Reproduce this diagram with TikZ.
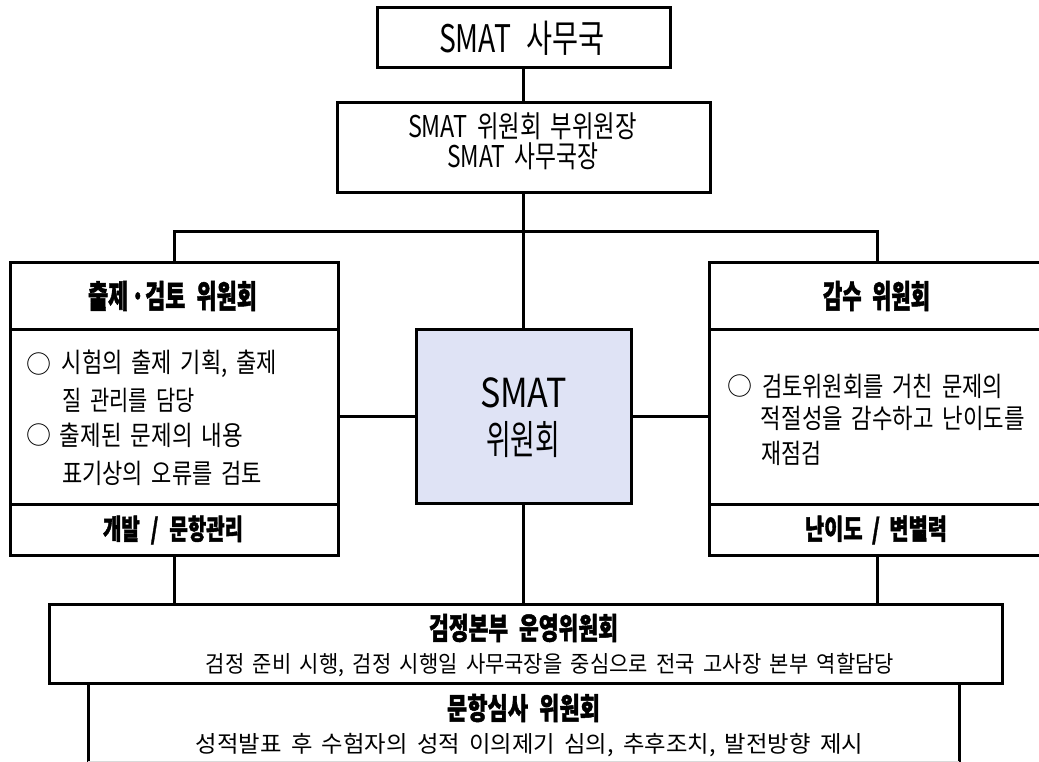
\documentclass[tikz,border=0pt]{standalone}
\usepackage{fontspec}
\setmainfont{Noto Sans CJK KR}[BoldFeatures={FakeBold=1.6}]
\usepackage{graphicx}
\definecolor{lav}{RGB}{223,227,245}
\newcommand\fw[2]{\resizebox{#1pt}{\height}{#2}}
\newcommand\fsz[1]{\fontsize{#1}{#1}\selectfont\spaceskip=0.4em\relax}
\newcommand\gap[1]{\hspace{#1em}}
\tikzset{
  box/.style={draw=black, line width=3pt, inner sep=0pt, outer sep=0pt},
  link/.style={draw=black, line width=3pt},
  txt/.style={inner sep=0pt, outer sep=0pt, anchor=center},
}
\begin{document}
\begin{tikzpicture}[x=1pt,y=-1pt]
\useasboundingbox (0,0) rectangle (1039,762);
\clip (0,0) rectangle (1039,762);
% boxes
\node[box, minimum width=293pt, minimum height=60pt] (top) at (523.5,38) {};
\node[box, minimum width=373pt, minimum height=90pt] (vice) at (523.5,148) {};
\node[box, minimum width=328pt, minimum height=66pt] (lhead) at (174,296) {};
\node[box, minimum width=328pt, minimum height=175pt] (lbody) at (174,416.5) {};
\node[box, minimum width=328pt, minimum height=51pt] (lfoot) at (174,529.5) {};
\node[box, minimum width=336pt, minimum height=66pt] (rhead) at (877,296) {};
\node[box, minimum width=336pt, minimum height=175pt] (rbody) at (877,416.5) {};
\node[box, minimum width=336pt, minimum height=51pt] (rfoot) at (877,529.5) {};
\node[box, fill=lav, minimum width=215pt, minimum height=174pt] (center) at (523.5,416) {};
\node[box, minimum width=953pt, minimum height=79pt] (bot1) at (525.5,643.5) {};
\node[box, minimum width=871pt, minimum height=92pt] (bot2) at (523.5,729) {};
\draw[gray!30, line width=1pt] (bot2.west |- 0,761) -- (bot2.east |- 0,761);
% connectors
\coordinate (bus) at (523.5,232);
\draw[link] (top.south) -- (vice.north);
\draw[link] (vice.south) -- (center.north);
\draw[link] (center.south) -- (center.south |- bot1.north);
\draw[link] (lhead.north) |- (bus) -| (rhead.north);
\draw[link] (center.west) -- (center.west -| lbody.east);
\draw[link] (center.east) -- (center.east -| rbody.west);
\draw[link] (lfoot.south) -- (lfoot.south |- bot1.north);
\draw[link] (rfoot.south) -- (rfoot.south |- bot1.north);
% texts
\node[txt] (t1) at (522,38) {\fsz{38}\fw{166}{SMAT\gap{0.55}사무국}};
\node[txt] (t2) at (522.5,126) {\fsz{30}\fw{229}{SMAT 위원회 부위원장}};
\node[txt] (t3) at (522.5,156) {\fsz{30}\fw{151}{SMAT 사무국장}};
\node[txt] (t4) at (172.5,296) {\fsz{32}\bfseries\fw{169}{출제\kern4pt·\kern1pt검토\gap{0.5}위원회}};
\node[txt] (t5) at (876.5,296) {\fsz{32}\bfseries\fw{107}{감수\gap{0.5}위원회}};
\node[txt] (t6) at (523.5,393) {\fsz{40}\fw{87}{SMAT}};
\node[txt] (t7) at (523,440) {\fsz{40}\fw{74}{위원회}};
% left body
\node[txt] (c1) at (39,364) {\fsz{25}○};
\node[txt] (l1) at (169.5,364) {\fsz{27}\fw{215}{시험의 출제 기획, 출제}};
\node[txt] (l2) at (129,400) {\fsz{27}\fw{132}{질 관리를 담당}};
\node[txt] (c2) at (39,435) {\fsz{25}○};
\node[txt] (l3) at (151.5,435) {\fsz{27}\fw{183}{출제된 문제의 내용}};
\node[txt] (l4) at (162,473) {\fsz{27}\fw{200}{표기상의 오류를 검토}};
% right body
\node[txt] (c3) at (740,386) {\fsz{25}○};
\node[txt] (r1) at (882.5,386) {\fsz{27}\fw{241}{검토위원회를 거친 문제의}};
\node[txt] (r2) at (893,418) {\fsz{27}\fw{264}{적절성을 감수하고 난이도를}};
\node[txt] (r3) at (791,453) {\fsz{27}\fw{60}{재점검}};
% footers
\node[txt] (f1) at (173,530) {\fsz{28}\bfseries\fw{140}{개발\gap{0.55}/\gap{0.55}문항관리}};
\node[txt] (f2) at (876,530) {\fsz{28}\bfseries\fw{142}{난이도\gap{0.45}/\gap{0.45}변별력}};
% bottom
\node[txt] (b1) at (523.5,628) {\fsz{30}\bfseries\fw{189}{검정본부\gap{0.5}운영위원회}};
\node[txt] (b2) at (550,665) {\fsz{23}\fw{688}{검정 준비 시행, 검정 시행일 사무국장을 중심으로 전국 고사장 본부 역할담당}};
\node[txt] (b3) at (523.5,708) {\fsz{30}\bfseries\fw{153}{문항심사\gap{0.5}위원회}};
\node[txt] (b4) at (529.5,745) {\fsz{23}\fw{667}{성적발표 후 수험자의 성적 이의제기 심의, 추후조치, 발전방향 제시}};
\end{tikzpicture}
\end{document}
